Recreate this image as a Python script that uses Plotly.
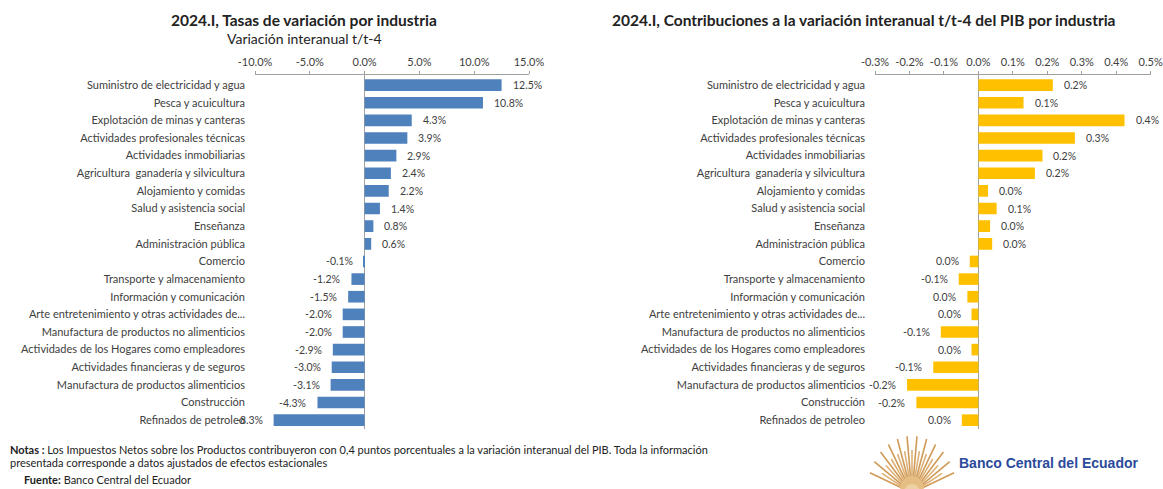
import math
import plotly.graph_objects as go

# Industries, top to bottom
industrias = [
    "Suministro de electricidad y agua",
    "Pesca y acuicultura",
    "Explotación de minas y canteras",
    "Actividades profesionales técnicas",
    "Actividades inmobiliarias",
    "Agricultura  ganadería y silvicultura",
    "Alojamiento y comidas",
    "Salud y asistencia social",
    "Enseñanza",
    "Administración pública",
    "Comercio",
    "Transporte y almacenamiento",
    "Información y comunicación",
    "Arte entretenimiento y otras actividades de...",
    "Manufactura de productos no alimenticios",
    "Actividades de los Hogares como empleadores",
    "Actividades financieras y de seguros",
    "Manufactura de productos alimenticios",
    "Construcción",
    "Refinados de petroleo",
]

# Year-on-year growth rate (t/t-4), %
tasas = [12.5, 10.8, 4.3, 3.9, 2.9, 2.4, 2.2, 1.4, 0.8, 0.6,
         -0.1, -1.2, -1.5, -2.0, -2.0, -2.9, -3.0, -3.1, -4.3, -8.3]

# Contribution to GDP year-on-year change, percentage points
contribuciones = [0.216, 0.131, 0.424, 0.280, 0.186, 0.164, 0.028, 0.053, 0.034, 0.040,
                  -0.025, -0.057, -0.032, -0.020, -0.109, -0.020, -0.131, -0.207, -0.180, -0.048]

tasas_ticks = [-10, -5, 0, 5, 10, 15]
tasas_ticktext = ["-10.0%", "-5.0%", "0.0%", "5.0%", "10.0%", "15.0%"]
contrib_ticks = [-0.3, -0.2, -0.1, 0.0, 0.1, 0.2, 0.3, 0.4, 0.5]
contrib_ticktext = ["-0.3%", "-0.2%", "-0.1%", "0.0%", "0.1%", "0.2%", "0.3%", "0.4%", "0.5%"]

W, H = 1163, 489
FONT = "Lato"
TXT = "#404040"
AXIS = "#A0A0A0"


def px_x(p):
    return p / W


def px_y(p):
    return 1 - p / H


def pct(v):
    s = f"{v:.1f}"
    if s == "-0.0":
        s = "0.0"
    return s + "%"


fig = go.Figure()
fig.add_trace(go.Bar(x=tasas, y=industrias, orientation="h", width=0.66,
                     marker=dict(color="#4F81BD", line=dict(width=0)),
                     xaxis="x", yaxis="y", showlegend=False))
fig.add_trace(go.Bar(x=contribuciones, y=industrias, orientation="h", width=0.66,
                     marker=dict(color="#FFC000", line=dict(width=0)),
                     xaxis="x2", yaxis="y2", showlegend=False))

ydom = [px_y(429), px_y(74.5)]
common_x = dict(side="top", showline=True, linecolor=AXIS, linewidth=1,
                ticks="outside", ticklen=3, tickcolor=AXIS, showgrid=False,
                zeroline=True, zerolinecolor=AXIS, zerolinewidth=1,
                tickmode="array", automargin=False,
                tickfont=dict(family=FONT, size=11, color=TXT),
                fixedrange=True)
common_y = dict(domain=ydom, range=[19.5, -0.6], type="category",
                categoryorder="array", categoryarray=industrias,
                showline=False, ticks="", showgrid=False, zeroline=False,
                ticklabelstandoff=9, automargin=False,
                tickfont=dict(family=FONT, size=11, color=TXT), fixedrange=True)

fig.update_layout(
    width=W, height=H, autosize=False,
    margin=dict(l=0, r=0, t=0, b=0, autoexpand=False),
    paper_bgcolor="white", plot_bgcolor="rgba(0,0,0,0)",
    bargap=0.3,
    xaxis=dict(domain=[px_x(255), px_x(529)], range=[-10, 15], anchor="y",
               tickvals=tasas_ticks, ticktext=tasas_ticktext, **common_x),
    yaxis=dict(anchor="x", **common_y),
    xaxis2=dict(domain=[px_x(875), px_x(1150.7)], range=[-0.3, 0.5], anchor="y2",
                tickvals=contrib_ticks, ticktext=contrib_ticktext, **common_x),
    yaxis2=dict(anchor="x2", **common_y),
)

annotations = []
# Value labels beside each bar
for xref, yref, vals in (("x", "y", tasas), ("x2", "y2", contribuciones)):
    for name, v in zip(industrias, vals):
        annotations.append(dict(
            x=v, y=name, xref=xref, yref=yref, showarrow=False,
            text=pct(v), xanchor="left" if v >= 0 else "right",
            xshift=9 if v >= 0 else -9,
            font=dict(family=FONT, size=10.5, color=TXT)))

# Titles
annotations += [
    dict(x=px_x(304), y=px_y(20), xref="paper", yref="paper", showarrow=False,
         xanchor="center", yanchor="middle",
         text="<b>2024.I, Tasas de variación por industria</b>",
         font=dict(family=FONT, size=15.5, color="#222222")),
    dict(x=px_x(305), y=px_y(38), xref="paper", yref="paper", showarrow=False,
         xanchor="center", yanchor="middle",
         text="Variación interanual t/t-4",
         font=dict(family=FONT, size=14, color="#222222")),
    dict(x=px_x(864), y=px_y(20), xref="paper", yref="paper", showarrow=False,
         xanchor="center", yanchor="middle",
         text="<b>2024.I, Contribuciones a la variación interanual t/t-4 del PIB por industria</b>",
         font=dict(family=FONT, size=15.5, color="#222222")),
]

# Notes and source
annotations += [
    dict(x=px_x(8), y=px_y(449), xref="paper", yref="paper", showarrow=False,
         xanchor="left", yanchor="middle",
         text="<b>Notas :</b> Los Impuestos Netos sobre los Productos contribuyeron con 0,4 puntos "
              "porcentuales a la variación interanual del PIB. Toda la información",
         font=dict(family=FONT, size=11, color="#222222")),
    dict(x=px_x(8), y=px_y(462), xref="paper", yref="paper", showarrow=False,
         xanchor="left", yanchor="middle",
         text="presentada corresponde a datos ajustados de efectos estacionales",
         font=dict(family=FONT, size=11, color="#222222")),
    dict(x=px_x(22), y=px_y(479), xref="paper", yref="paper", showarrow=False,
         xanchor="left", yanchor="middle",
         text="<b>Fuente:</b> Banco Central del Ecuador",
         font=dict(family=FONT, size=11, color="#222222")),
    dict(x=px_x(957), y=px_y(463), xref="paper", yref="paper", showarrow=False,
         xanchor="left", yanchor="middle",
         text="<b>Banco Central del Ecuador</b>",
         font=dict(family="Liberation Sans", size=14, color="#2B4A9B")),
]
fig.update_layout(annotations=annotations)

# Emblem: golden fan of rays
shapes = []
cx, cy = 912, 492
for i in range(23):
    ang = math.radians(20 + i * 140 / 22)
    length = 56 if i % 2 == 0 else 42
    x1 = cx + length * math.cos(ang) * 0.8
    y1 = cy - length * math.sin(ang)
    shapes.append(dict(type="line", xref="paper", yref="paper",
                       x0=px_x(cx + 8 * math.cos(ang)), y0=px_y(cy - 8 * math.sin(ang)),
                       x1=px_x(x1), y1=px_y(y1),
                       line=dict(color="#D7A45E" if i % 2 else "#C98A3A", width=1.6),
                       opacity=0.85))
shapes.append(dict(type="circle", xref="paper", yref="paper",
                   x0=px_x(cx - 12), x1=px_x(cx + 12), y0=px_y(cy + 10), y1=px_y(cy - 16),
                   fillcolor="#E8C48C", line=dict(width=0), opacity=0.8))
fig.update_layout(shapes=shapes)

fig.write_html("out.html")
